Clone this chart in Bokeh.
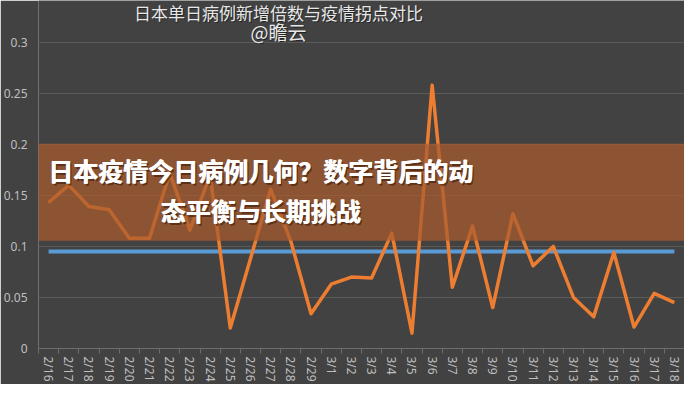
from bokeh.plotting import figure
from bokeh.models import (Range1d, FixedTicker, CustomJSTickFormatter, BoxAnnotation, Label)
from bokeh.embed import file_html
from bokeh.resources import INLINE

# ---- data ----
dates = ["2/16", "2/17", "2/18", "2/19", "2/20", "2/21", "2/22", "2/23", "2/24", "2/25",
         "2/26", "2/27", "2/28", "2/29", "3/1", "3/2", "3/3", "3/4", "3/5", "3/6",
         "3/7", "3/8", "3/9", "3/10", "3/11", "3/12", "3/13", "3/14", "3/15", "3/16",
         "3/17", "3/18"]
growth_ratio = [0.143, 0.160, 0.139, 0.136, 0.108, 0.108, 0.172, 0.116, 0.170, 0.020,
                0.088, 0.156, 0.105, 0.034, 0.063, 0.070, 0.069, 0.113, 0.015, 0.258,
                0.060, 0.120, 0.040, 0.132, 0.081, 0.100, 0.050, 0.031, 0.094, 0.021,
                0.054, 0.045]
turning_point = 0.095
y_ticks = [0, 0.05, 0.1, 0.15, 0.2, 0.25, 0.3]

title_line1 = "日本单日病例新增倍数与疫情拐点对比"
title_line2 = "@瞻云"
banner_line1 = "日本疫情今日病例几何？数字背后的动"
banner_line2 = "态平衡与长期挑战"

xs = list(range(len(dates)))
bg = "#424242"

# y range extends above 0.3 so the title area lies inside the frame
p = figure(width=684, height=384, output_backend="svg", toolbar_location=None,
           x_range=Range1d(-0.5, len(dates) - 0.5), y_range=Range1d(0, 0.3409),
           min_border_left=38, min_border_right=0, min_border_top=0, min_border_bottom=34)
p.background_fill_color = bg
p.border_fill_color = bg
p.outline_line_color = None

# axes
p.xgrid.grid_line_color = None
p.ygrid.grid_line_color = "#5a5a5a"
p.ygrid.grid_line_width = 1
p.ygrid.ticker = FixedTicker(ticks=y_ticks)

p.yaxis.ticker = FixedTicker(ticks=y_ticks)
p.yaxis.formatter = CustomJSTickFormatter(
    code="return tick.toFixed(2).replace(/0+$/, '').replace(/\\.$/, '');")
p.yaxis.axis_line_color = None
p.yaxis.major_tick_line_color = None
p.yaxis.minor_tick_line_color = None
p.yaxis.major_label_text_color = "#bfbfbf"
p.yaxis.major_label_text_font = "Noto Sans"
p.yaxis.major_label_text_font_size = "12px"
p.yaxis.major_label_standoff = 5

p.xaxis.ticker = FixedTicker(ticks=xs, minor_ticks=[i - 0.5 for i in range(len(dates) + 1)])
p.xaxis.formatter = CustomJSTickFormatter(args=dict(labels=dates),
                                          code="const i = Math.round(tick); return labels[i] ?? '';")
p.xaxis.major_label_orientation = "vertical"
p.xaxis.major_tick_line_color = None
p.xaxis.minor_tick_line_color = "#6e6e6e"
p.xaxis.minor_tick_in = 0
p.xaxis.minor_tick_out = 5
p.xaxis.axis_line_color = "#6e6e6e"
p.xaxis.major_label_text_color = "#bfbfbf"
p.xaxis.major_label_text_font = "Noto Sans"
p.xaxis.major_label_text_font_size = "12px"
p.xaxis.major_label_standoff = 2

# series
p.line(xs, [turning_point] * len(dates), line_color="#5b9bd5", line_width=4)
p.line(xs, growth_ratio, line_color="#ed7d31", line_width=3.5, line_join="round")

# title (inside the upper, tick-free part of the frame)
for txt, y, size in [(title_line1, 12, "17px"), (title_line2, 31, "19px")]:
    p.add_layout(Label(x=279, y=y + 1, x_units="canvas", y_units="canvas", text=txt,
                       text_align="center", text_baseline="middle",
                       text_font="Noto Sans CJK SC", text_font_size=size,
                       text_color="#000000", text_alpha=0.45))
    p.add_layout(Label(x=278, y=y, x_units="canvas", y_units="canvas", text=txt,
                       text_align="center", text_baseline="middle",
                       text_font="Noto Sans CJK SC", text_font_size=size,
                       text_color="#e8e8e8"))

# banner overlay
p.add_layout(BoxAnnotation(left=0, right=684, top=0.2005, bottom=0.1056,
                           left_units="canvas", right_units="canvas",
                           fill_color="#ab5c2e", fill_alpha=0.72, line_color=None))
for txt, y in [(banner_line1, 169), (banner_line2, 209)]:
    p.add_layout(Label(x=262, y=y + 2, x_units="canvas", y_units="canvas", text=txt,
                       text_align="center", text_baseline="middle",
                       text_font="Noto Sans CJK SC", text_font_style="bold",
                       text_font_size="25px", text_color="#3a1a08", text_alpha=0.6))
    for dx in (0, 0.7):
        p.add_layout(Label(x=260 + dx, y=y, x_units="canvas", y_units="canvas", text=txt,
                           text_align="center", text_baseline="middle",
                           text_font="Noto Sans CJK SC", text_font_style="bold",
                           text_font_size="25px", text_color="#ffffff"))

open("out.html", "w").write(file_html(p, INLINE))
